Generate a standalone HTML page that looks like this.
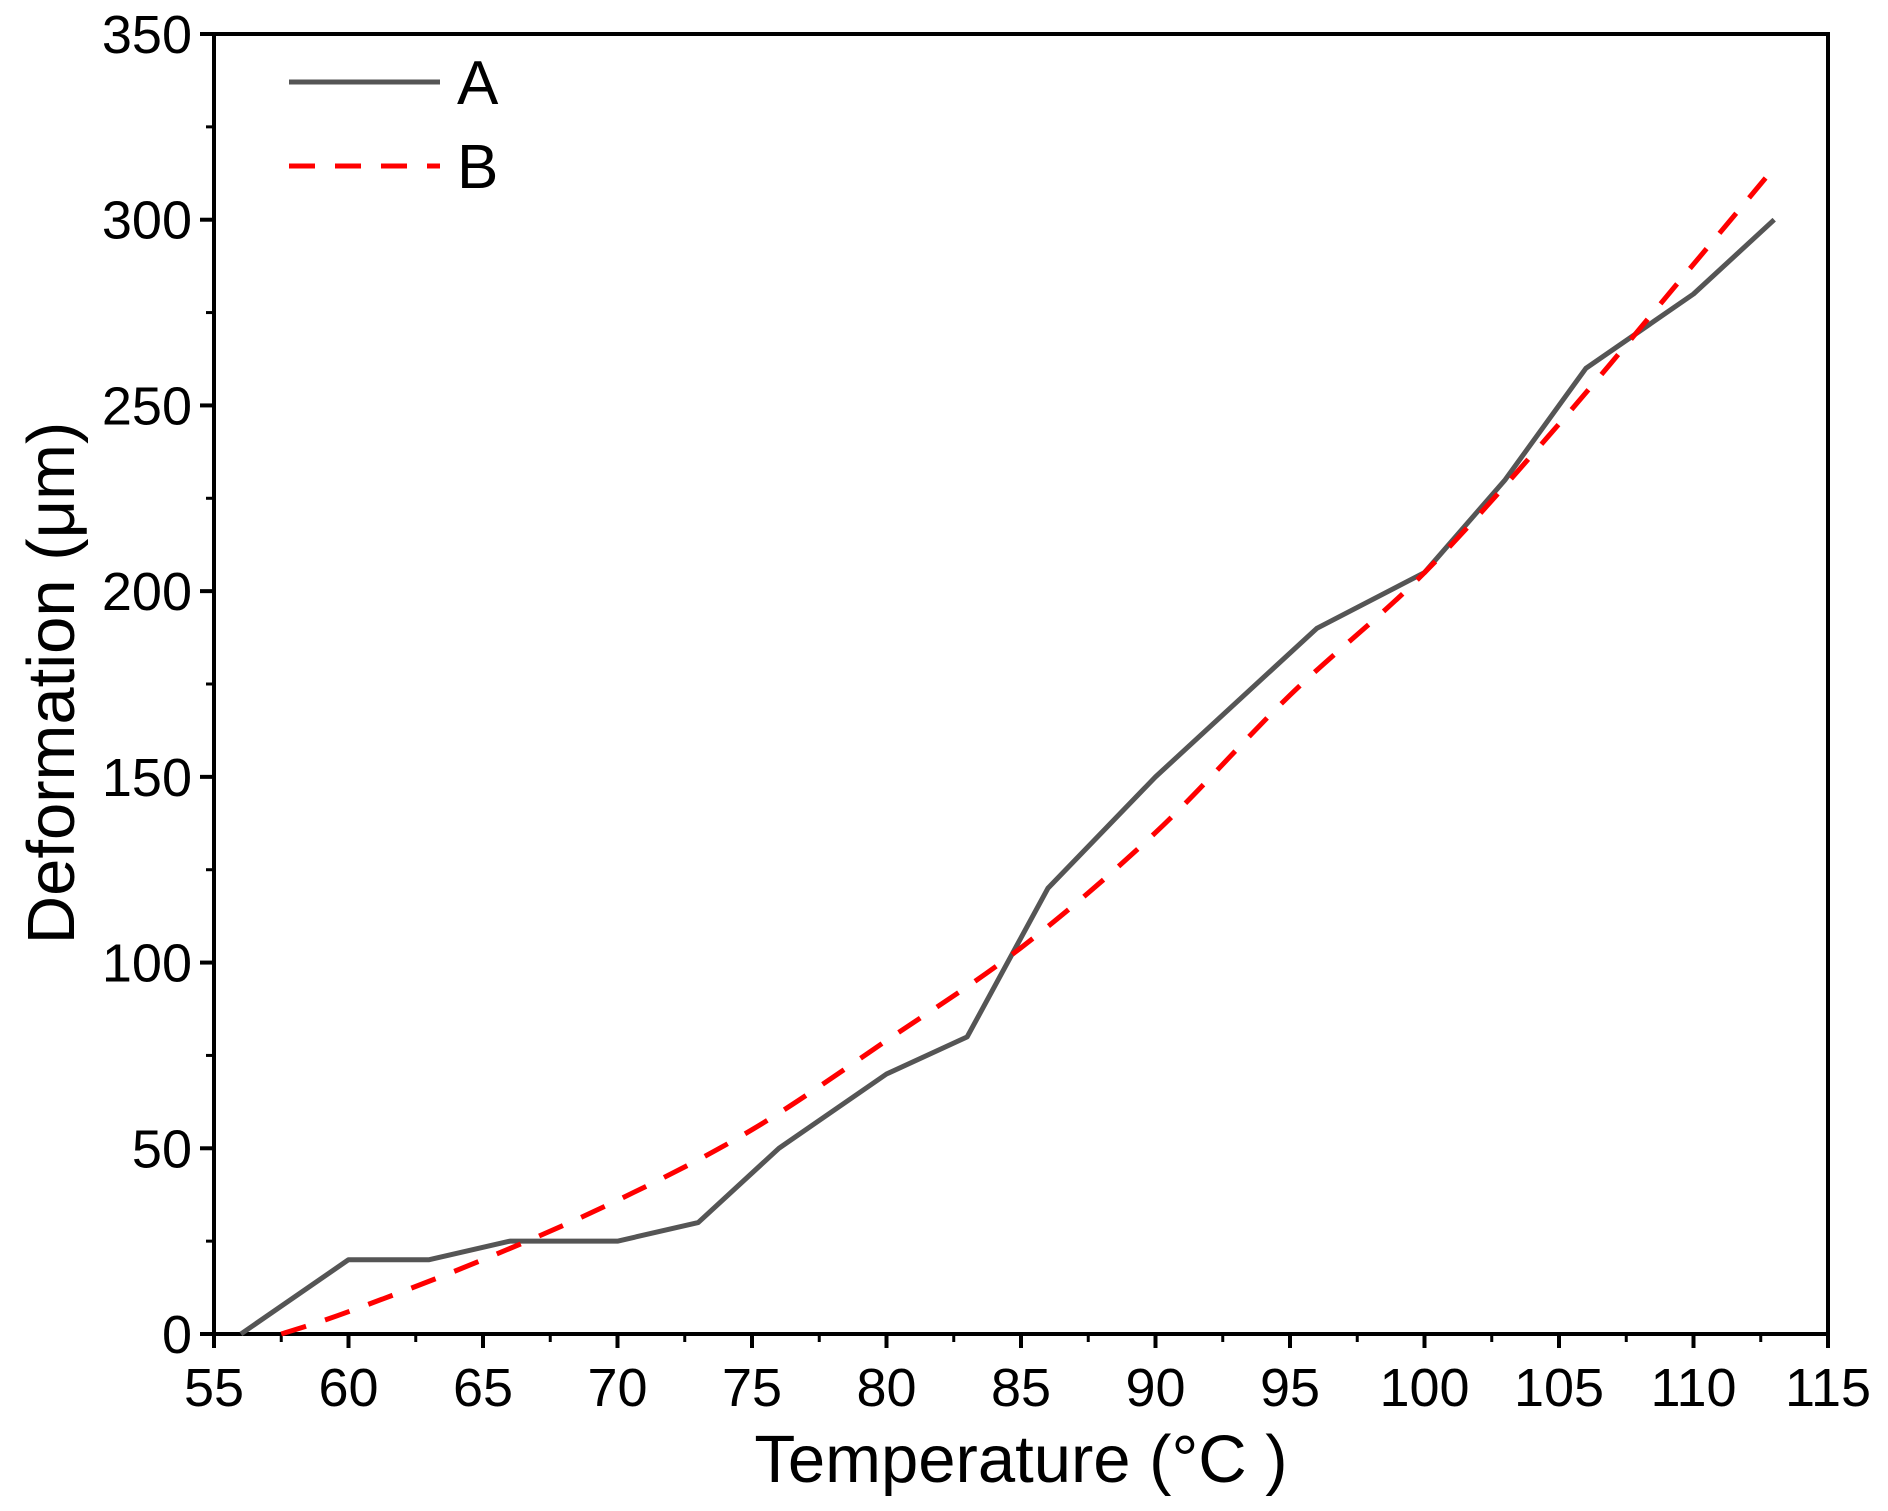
<!DOCTYPE html>
<html><head><meta charset="utf-8"><style>
html,body{margin:0;padding:0;background:#fff;}
svg text{font-family:"Liberation Sans",Arial,sans-serif;fill:#000;}
</style></head><body>
<svg id="chart" width="1888" height="1506" viewBox="0 0 1888 1506" xmlns="http://www.w3.org/2000/svg">
<g id="axes"></g>
<g id="series"></g>
<g id="legend">
  <line x1="289" y1="82" x2="440" y2="82" stroke="#555" stroke-width="5"/>
  <text x="457" y="104" font-size="62">A</text>
  <line x1="289" y1="166" x2="440" y2="166" stroke="#ff0000" stroke-width="5" stroke-dasharray="26,20"/>
  <text x="457" y="188" font-size="62">B</text>
</g>
<text x="1021" y="1482" font-size="67" text-anchor="middle">Temperature (°C )</text>
<text transform="translate(74,683) rotate(-90)" font-size="67" text-anchor="middle">Deformation (μm)</text>
</svg>
<script>
const xTicks = [55,60,65,70,75,80,85,90,95,100,105,110,115];
const yTicks = [0,50,100,150,200,250,300,350];
const aX = [56,60,63,66,70,73,76,80,83,86,90,96,100,103,106,110,113];
const aY = [0,20,20,25,25,30,50,70,80,120,150,190,205,230,260,280,300];
const bX = [57.5,60,65,70,75,80,85,90,95,100,105,110,113];
const bY = [0,6,20,36,55,79,104,135,172,205,245,288,314];

const L=214,R=1828,T=34,B=1334;
const sx=v=>L+(v-55)/(115-55)*(R-L);
const sy=v=>B-(v-0)/(350-0)*(B-T);
const NS='http://www.w3.org/2000/svg';
const axes=document.getElementById('axes');
const series=document.getElementById('series');
function mk(tag,attrs,parent){const e=document.createElementNS(NS,tag);for(const k in attrs)e.setAttribute(k,attrs[k]);parent.appendChild(e);return e;}

const frame=mk('rect',{x:L,y:T,width:R-L,height:B-T,fill:'none',stroke:'#000','stroke-width':4},axes);



xTicks.forEach((t,i)=>{
  const x=sx(t);
  const tk=mk('line',{x1:x,y1:B,x2:x,y2:B+14,stroke:'#000','stroke-width':4},axes);
  
  
  const lb=mk('text',{x:x,y:1406,'font-size':54,'text-anchor':'middle'},axes);
  lb.textContent=t;
  
  
  if(i<xTicks.length-1){
    const xm=sx(t+2.5);
    const mt=mk('line',{x1:xm,y1:B,x2:xm,y2:B+8,stroke:'#000','stroke-width':3},axes);
    
    
  }
});
yTicks.forEach((t,i)=>{
  const y=sy(t);
  const tk=mk('line',{x1:L-14,y1:y,x2:L,y2:y,stroke:'#000','stroke-width':4},axes);
  
  
  const lb=mk('text',{x:192,y:y+19,'font-size':54,'text-anchor':'end'},axes);
  lb.textContent=t;
  
  
  if(i<yTicks.length-1){
    const ym=sy(t+25);
    const mt=mk('line',{x1:L-8,y1:ym,x2:L,y2:ym,stroke:'#000','stroke-width':3},axes);
    
    
  }
});

const pa=mk('polyline',{points:aX.map((x,i)=>sx(x)+','+sy(aY[i])).join(' '),fill:'none',stroke:'#555','stroke-width':5,'stroke-linejoin':'round'},series);



const pts=bX.map((x,i)=>[sx(x),sy(bY[i])]);
let d='M'+pts[0][0]+','+pts[0][1];
for(let i=0;i<pts.length-1;i++){
  const p0=pts[i-1]||pts[i],p1=pts[i],p2=pts[i+1],p3=pts[i+2]||p2;
  const c1=[p1[0]+(p2[0]-p0[0])/6,p1[1]+(p2[1]-p0[1])/6];
  const c2=[p2[0]-(p3[0]-p1[0])/6,p2[1]-(p3[1]-p1[1])/6];
  d+=' C'+c1+' '+c2+' '+p2;
}
const pb=mk('path',{d:d,fill:'none',stroke:'#ff0000','stroke-width':5,'stroke-dasharray':'26,20'},series);


</script>
</body></html>
